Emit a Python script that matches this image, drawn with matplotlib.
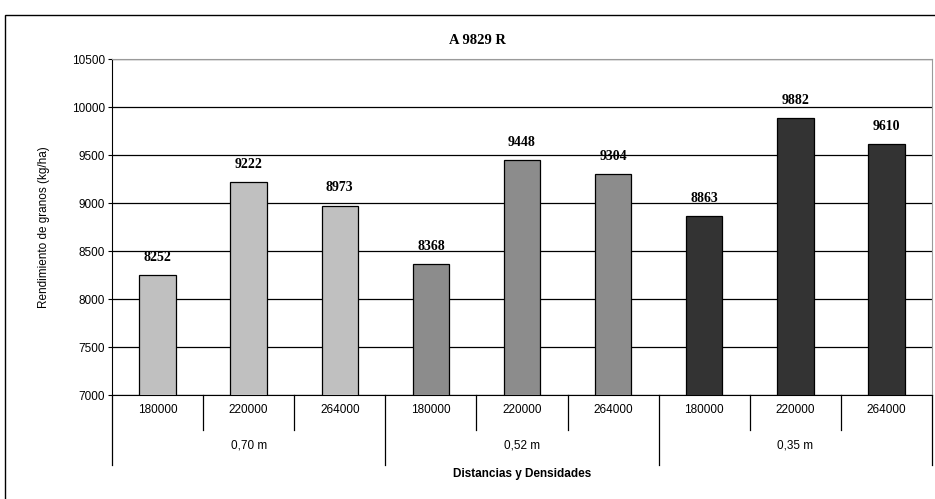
import matplotlib
matplotlib.use("Agg")
import numpy as np
from matplotlib import pyplot as plt
from matplotlib.patches import Rectangle
from matplotlib.transforms import blended_transform_factory

# densidades (plantas/ha) dentro de cada distancia entre surcos
densidades = ["180000", "220000", "264000"]
distancias = ["0,70 m", "0,52 m", "0,35 m"]
rendimiento = [8252, 9222, 8973, 8368, 9448, 9304, 8863, 9882, 9610]
colores_grupo = ["#c0c0c0", "#8c8c8c", "#333333"]

titulo = "A 9829 R"
eje_y = "Rendimiento de granos (kg/ha)"
eje_x = "Distancias y Densidades"

plt.rcParams["font.family"] = ["Liberation Sans", "DejaVu Sans"]
serif = ["Liberation Serif", "DejaVu Serif"]

W, H = 935, 499
fig = plt.figure(figsize=(W / 100, H / 100), dpi=100)
fig.patch.set_facecolor("white")

# marco exterior del grafico
fig.patches.append(Rectangle((5 / W, -0.1), 1.2, 1.1 - 15 / H,
                             transform=fig.transFigure, fill=False,
                             edgecolor="black", lw=1.0))

left, right, top, bottom = 112, 932, 59, 395
ax = fig.add_axes([left / W, 1 - bottom / H, (right - left) / W, (bottom - top) / H])

n = len(densidades)
xs = np.arange(len(rendimiento))
colores = [colores_grupo[i // n] for i in xs]
ax.bar(xs, rendimiento, width=0.4, color=colores, edgecolor="black", lw=0.9, zorder=3)

for x, v in zip(xs, rendimiento):
    ax.annotate(str(v), (x, v), xytext=(0, 8), textcoords="offset points",
                ha="center", va="bottom", fontsize=10, fontweight="bold",
                family=serif, zorder=4)

ax.set_xlim(-0.5, len(rendimiento) - 0.5)
ax.set_ylim(7000, 10500)
ax.set_yticks(np.arange(7000, 10501, 500))
ax.tick_params(axis="y", labelsize=8.5, length=3, width=0.8, pad=2)
ax.yaxis.grid(True, color="black", lw=0.9, zorder=1)
ax.set_xticks([])

for s in ("top", "right"):
    ax.spines[s].set_color("#9a9a9a")
ax.spines["left"].set_color("black")
ax.spines["bottom"].set_color("black")

fig.text(477 / W, 1 - 40 / H, titulo, fontsize=10.5, fontweight="bold",
         family=serif, ha="center", va="center")
ax.set_ylabel(eje_y, fontsize=8.5, labelpad=16)

# eje x jerarquico: densidad / distancia
tr = blended_transform_factory(ax.transData, ax.transAxes)
h_ax = bottom - top
for b in np.arange(-0.5, len(rendimiento), 1.0):
    largo = 70 if int(b + 0.5) % n == 0 else 35
    ax.plot([b, b], [0, -largo / h_ax], transform=tr, color="black",
            lw=0.9, clip_on=False)
for x in xs:
    ax.text(x, -15 / h_ax, densidades[x % n], transform=tr, ha="center",
            va="center", fontsize=8.5)
for g, d in enumerate(distancias):
    ax.text(g * n + (n - 1) / 2, -51 / h_ax, d, transform=tr, ha="center",
            va="center", fontsize=8.5)
ax.text(0.5, -79 / h_ax, eje_x, transform=ax.transAxes, ha="center",
        va="center", fontsize=8.5, fontweight="bold")

fig.savefig("out.png", dpi=100)
